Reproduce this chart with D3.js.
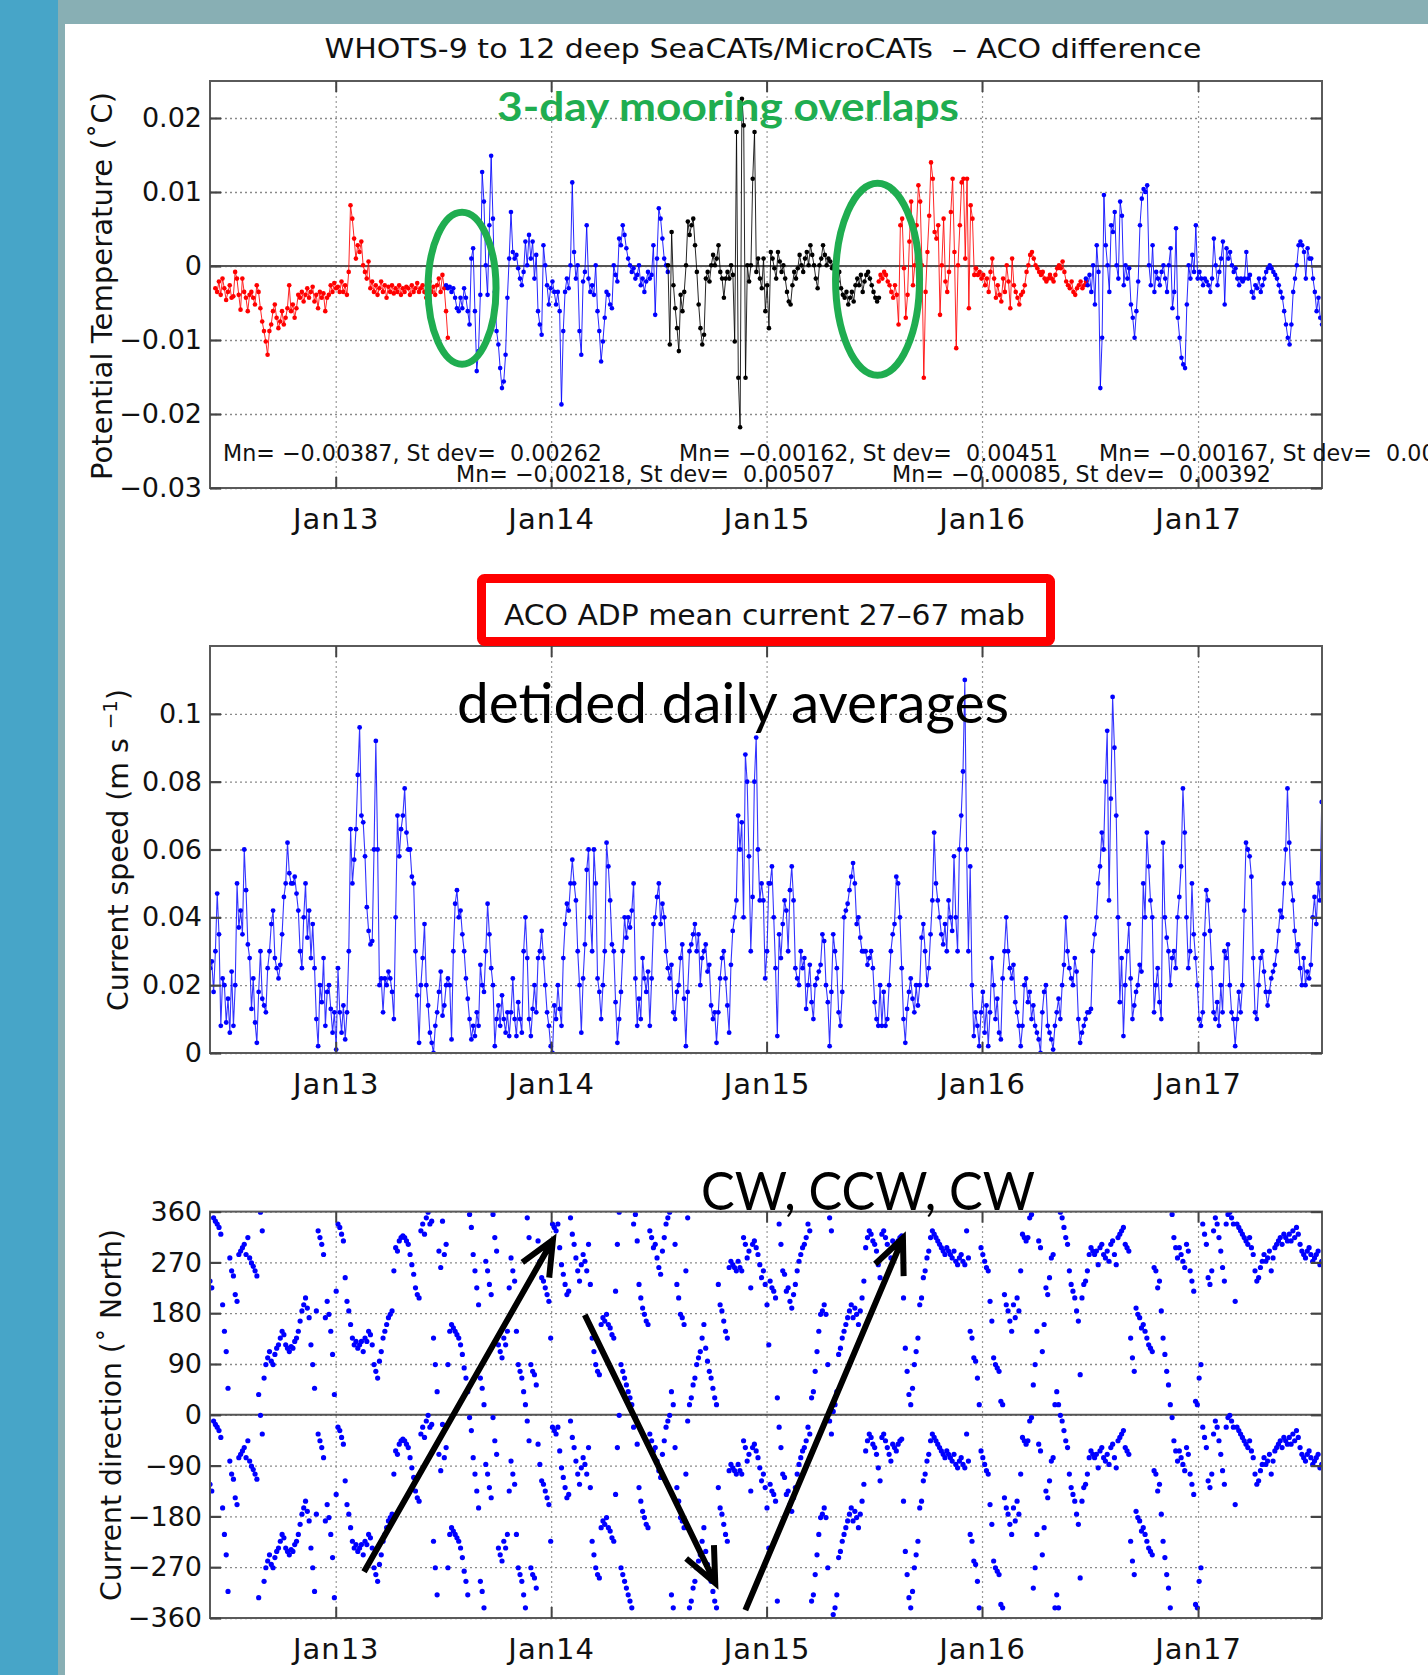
<!DOCTYPE html>
<html><head><meta charset="utf-8">
<script src="https://cdn.jsdelivr.net/npm/d3@7"></script>
<style>body{margin:0;background:#fff;} svg{display:block;} text{white-space:pre;}</style>
</head><body><svg id="c" width="1428" height="1675"></svg>
<script>
// ---------------- DATA ----------------
const STEP_DAYS = 3.054;           // sampling interval of the (sub-sampled) daily series
const xTickDates = ["2013-01-01","2014-01-01","2015-01-01","2016-01-01","2017-01-01"];
const xTickLabels = ["Jan13","Jan14","Jan15","Jan16","Jan17"];

const tempTicks = [0.02,0.01,0,-0.01,-0.02,-0.03];
const tempTickLabels = ["0.02","0.01","0","\u22120.01","\u22120.02","\u22120.03"];
const speedTicks = [0,0.02,0.04,0.06,0.08,0.1];
const speedTickLabels = ["0","0.02","0.04","0.06","0.08","0.1"];
const dirTicks = [360,270,180,90,0,-90,-180,-270,-360];
const dirTickLabels = ["360","270","180","90","0","\u221290","\u2212180","\u2212270","\u2212360"];

// temperature differences in units of 0.001 degC, per mooring segment
const tempSegStarts = ["2012-06-11","2013-07-07","2014-07-18","2015-07-10","2016-06-25"];
const tempSegColors = ["#ff0000","#0000ff","#000000","#ff0000","#0000ff"];
const tempW9 = [-3.0,-3.5,-2.1,-3.9,-1.7,-3.0,-4.6,-3.5,-2.6,-4.3,-4.1,-0.8,-1.7,-3.9,-5.9,-1.7,-3.5,-4.3,-6.1,-3.9,
-3.5,-4.3,-5.2,-2.6,-3.5,-5.7,-7.5,-8.8,-10.2,-12.0,-8.8,-7.9,-6.1,-5.2,-7.0,-8.4,-7.5,-6.1,-7.9,-7.0,
-5.7,-2.6,-6.1,-5.2,-7.0,-5.7,-3.9,-4.3,-3.5,-4.8,-3.9,-3.0,-4.3,-3.5,-2.8,-4.8,-3.9,-5.7,-3.5,-4.3,
-3.7,-6.1,-4.3,-3.9,-2.6,-3.5,-2.3,-3.0,-2.8,-3.5,-2.1,-3.5,-2.6,-3.9,-0.8,8.2,6.4,3.7,1.0,2.8,
1.9,3.3,0.1,-0.8,-1.7,0.6,-3.0,-2.1,-3.5,-2.6,-3.9,-3.0,-2.1,-3.5,-2.6,-4.3,-2.8,-3.5,-2.6,-3.7,
-3.0,-3.5,-2.6,-3.9,-3.0,-3.5,-2.8,-3.0,-3.9,-2.6,-3.5,-3.0,-2.3,-3.5,-3.0,-2.6,-3.5,-4.3,-3.0,-2.1,
-3.5,-2.8,-3.9,-2.6,-1.7,-3.5,-1.2,-3.0,-6.1,-9.7];
const tempW10 = [-2.6,-3.0,-2.8,-3.5,-3.0,-4.3,-5.7,-6.1,-4.3,-5.7,-3.0,-4.3,-6.1,-7.9,1.0,2.4,-6.1,-14.2,-11.5,-3.9,
12.7,8.7,0.1,-3.9,5.5,14.9,6.4,-3.5,-8.8,-10.6,-13.8,-16.5,-15.6,-12.0,-4.3,1.0,7.3,1.9,1.0,1.5,
-0.3,-1.7,-2.6,-0.8,3.3,0.1,4.2,1.0,3.3,-1.7,1.5,-6.1,-7.9,-9.3,2.8,0.1,-2.6,-5.2,-3.0,-2.1,
-3.5,-5.2,-3.5,-6.1,-18.7,-8.8,-3.5,-1.7,-3.0,0.1,11.3,1.9,-1.7,0.1,-8.8,-12.0,-2.1,-0.8,5.5,-1.7,
-3.5,-2.6,-3.9,0.1,-6.1,-8.8,-12.9,-10.2,-7.0,-3.5,-3.9,-5.2,-5.7,0.1,-1.2,-2.1,3.7,2.8,5.5,4.2,
2.4,1.0,0.1,-0.8,-0.3,-1.7,-1.2,0.1,-2.6,-1.7,-3.5,-2.1,-0.8,-1.7,-1.2,2.8,-6.6,1.0,7.8,6.4,
3.7,1.0,0.1,-0.8];
const tempW11 = [0.1,-10.6,4.6,-2.6,-5.7,-8.4,-11.5,-3.9,-6.1,-3.5,0.1,6.0,4.2,5.5,6.4,2.8,-0.8,-5.2,-8.4,-10.6,
-9.3,-1.7,-0.8,-2.1,0.1,1.5,0.1,1.0,2.8,-0.8,-1.7,-4.3,-1.7,-0.8,-1.7,0.1,-1.2,-10.2,18.1,-15.1,
-21.8,22.6,19.0,-15.1,0.1,-2.1,0.1,11.8,18.1,-0.8,1.0,-1.7,-3.0,1.0,-6.1,-2.6,-8.4,
1.9,1.0,-0.3,-1.7,1.9,0.6,-0.8,0.1,-1.7,-3.5,-4.8,-5.2,-2.6,-0.8,-1.7,-0.3,1.5,0.1,-0.8,1.0,
1.9,0.1,2.8,1.5,0.1,-1.7,-3.0,0.1,1.0,2.8,1.5,0.1,1.0,0.6,-0.3,0.1,-1.2,-2.1,-0.8,-3.0,
-3.9,-4.3,-3.5,-5.2,-4.3,-3.5,-4.8,-2.6,-1.7,-2.6,-1.2,-3.5,-2.1,-1.2,-0.8,-1.7,-2.6,-3.5,-4.3,-4.8,-4.3];
const tempW12 = [-2.1,-1.2,-1.7,-0.8,-1.2,-2.1,-2.6,-3.5,-4.3,-2.6,-3.9,-7.9,5.5,6.4,-0.3,-7.0,-3.9,3.3,8.7,-2.6,
0.1,5.5,10.9,8.7,0.1,-15.1,-3.5,1.9,6.8,14.0,11.8,4.6,3.7,5.5,-6.6,0.1,6.4,-2.1,-3.5,-0.8,
7.3,11.8,1.9,-11.1,0.1,5.5,11.3,11.8,1.0,11.8,-5.7,8.2,6.4,-1.2,-0.3,-1.2,-0.8,-1.7,-1.2,-2.6,
-1.7,-3.5,-0.8,1.0,-1.7,-4.3,-2.6,-3.9,-4.8,-1.7,-3.5,0.1,-2.1,-5.7,1.0,-2.6,-3.5,-4.3,-5.2,-3.9,
-3.5,-2.6,-0.8,0.1,1.5,1.9,1.0,0.1,-0.3,-0.8,-1.2,-0.8,-1.7,-2.1,-1.7,-1.2,-1.7,-2.1,-1.2,-0.3,
0.1,-0.3,0.6,-0.8,-2.1,-2.6,-3.0,-2.1,-3.5,-3.9,-3.0,-2.6,-2.1,-3.0,-2.6,-2.1];
const tempW13 = [-1.7,-2.6,-1.2,-3.5,0.1,-5.2,2.8,-0.8,-16.5,-9.7,9.6,2.8,0.1,-3.5,5.5,4.6,7.3,0.1,-1.7,8.7,
6.8,-2.6,0.1,-1.7,-0.3,-5.2,-7.0,-9.7,-6.1,-2.1,5.5,9.1,10.4,10.0,10.9,0.1,-2.6,2.8,-3.5,-0.8,
-1.7,-2.6,-0.8,0.1,-1.7,-3.5,0.1,2.4,-5.7,-3.5,5.1,-7.0,-9.7,-12.4,-13.3,-13.8,-5.2,0.1,-1.7,1.5,
-0.8,5.5,-1.7,-0.8,-1.7,-2.6,-1.7,-2.1,-2.6,-3.5,-1.7,3.7,0.1,-2.6,-0.8,1.0,3.3,-5.2,2.4,1.0,
1.9,0.1,-0.8,-0.3,-1.7,-2.6,-1.7,-2.1,-1.7,1.9,-1.7,-1.2,-3.5,-4.3,-2.6,-3.0,-1.7,-3.5,-2.6,-1.7,
-0.8,-0.3,0.1,-0.3,-0.8,-1.2,-1.7,-2.6,-3.5,-4.3,-6.1,-7.9,-9.7,-10.6,-7.9,-3.5,-1.7,0.1,2.8,3.3,
2.8,1.9,-1.7,2.4,1.0,1.0,-1.7,-3.5,-6.1,-4.3,-7.0,-7.9];
const tempSegments = [tempW9,tempW10,tempW11,tempW12,tempW13];
const tempStats = ["Mn= \u22120.00387, St dev=  0.00262","Mn= \u22120.00218, St dev=  0.00507",
  "Mn= \u22120.00162, St dev=  0.00451","Mn= \u22120.00085, St dev=  0.00392","Mn= \u22120.00167, St dev=  0.00"];

// current speed (m/s), detided daily averages (sub-sampled)
const speedStarts = ["2012-06-02","2015-01-07"];
const speedA = [.025,.027,.018,.03,.047,.035,.008,.022,.02,.009,.016,.006,.024,.008,.02,.05,.037,.042,.035,.06,
.048,.032,.028,.013,.022,.009,.003,.018,.03,.016,.014,.012,.025,.03,.038,.042,.028,.025,.022,.026,
.035,.046,.05,.062,.053,.05,.05,.052,.047,.042,.03,.025,.04,.05,.034,.042,.028,.038,.025,.01,
.002,.02,.015,.028,.008,.018,.02,.013,.006,.012,.001,.025,.012,.006,.014,.004,.012,.03,.066,.05,
.057,.066,.082,.096,.07,.068,.058,.043,.036,.032,.033,.06,.092,.06,.02,.022,.012,.022,.02,.024,
.022,.018,.01,.04,.07,.058,.066,.07,.078,.065,.06,.06,.052,.05,.03,.017,.003,.02,.028,.038,
.02,.014,.006,.003,0,.008,.012,.018,.024,.011,.014,.02,.022,.02,.004,.03,.044,.048,.04,.042,
.035,.03,.022,.016,.01,.004,.008,.005,.012,.008,.026,.02,.018,.03,.044,.035,.025,.02,.002,.01,
.014,.008,.017,.01,.006,.012,.005,.012,.022,.01,.005,.015,.01,.006,.03,.04,.028,.01,.005,.013,
.02,.012,.028,.03,.036,.028,.02,.012,.008,.002,0,.014,.01,.02,.013,.008,.028,.038,.044,.042,
.05,.057,.05,.045,.03,.02,.006,.022,.032,.054,.06,.04,.03,.06,.05,.022,.018,.01,.02,.03,
.062,.055,.045,.032,.03,.015,.003,.01,.018,.03,.04,.034,.04,.037,.042,.05,.022,.008,.016,.01,
.028,.022,.018,.024,.008,.022,.038,.04,.046,.05,.038,.044,.04,.03,.025,.022,.026,.012,.01,.018,
.02,.028,.032,.016,.002,.018,.03,.032,.035,.038,.03,.035,.02,.028,.03,.032,.024,.026,.014,.01,
.012,.003,.012,.022,.028,.03,.022,.014,.006,.026,.036,.04,.045,.07,.06,.068,.04,.088,.08,.058,
.03,.046,.08,.093,.06,.045,.05,.045,.022,.03,.05];
const speedB = [.05,.055,.04,.025,.005,.035,.028,.038,.045,.042,.03,.048,.055,.045,.025,.022,.02,.03,.025,.028,
.013,.02,.026,.015,.01,.02,.022,.024,.026,.035,.033,.02,.015,.002,.018,.035,.03,.025,.012,.008,
.018,.04,.042,.044,.048,.052,.056,.05,.038,.04,.034,.03,.03,.03,.026,.028,.03,.025,.015,.01,
.008,.02,.008,.018,.008,.01,.02,.03,.035,.038,.052,.05,.04,.025,.01,.003,.013,.018,.022,.016,
.012,.02,.014,.02,.034,.038,.03,.02,.025,.035,.045,.065,.05,.045,.04,.035,.032,.038,.03,.045,
.04,.036,.058,.04,.03,.06,.07,.083,.11,.06,.03,.055,.02,.005,.012,.008,.002,.012,.018,.006,
.014,.002,.012,.028,.02,.01,.016,.006,.004,.022,.03,.04,.03,.025,.022,.026,.015,.012,.008,.002,
.008,.02,.022,.015,.018,.01,.014,.008,.006,.004,0,.012,.018,.02,.008,.006,.004,.001,.008,.012,
.016,.01,.02,.026,.04,.03,.025,.022,.02,.028,.024,.01,.003,.006,.008,.01,.012,.012,.013,.03,
.035,.04,.05,.055,.065,.06,.08,.095,.045,.075,.105,.09,.07,.04,.015,.028,.005,.02,.03,.038,
.022,.01,.014,.018,.02,.026,.024,.05,.04,.065,.055,.045,.04,.012,.02,.025,.015,.01,.062,.04,
.034,.03,.02,.028,.03,.025,.04,.046,.055,.078,.065,.04,.025,.03,.05,.035,.028,.02,.01,.008,
.012,.035,.048,.045,.036,.025,.012,.01,.015,.008,.02,.012,.03,.028,.032,.02,.012,.01,.002,.01,
.018,.012,.02,.042,.062,.06,.058,.052,.028,.012,.01,.02,.028,.03,.024,.018,.014,.018,.022,.024,
.026,.03,.036,.042,.04,.05,.06,.078,.062,.05,.045,.036,.03,.032,.025,.02,.028,.02,.024,.022,
.026,.04,.046,.038,.05,.045,.074];

// current direction (degrees from North, 0-360), same sampling
const dirStarts = ["2012-06-02","2015-01-07"];
const dirA = [237,225,349,343,338,332,320,195,148,112,47,278,255,246,213,201,284,290,296,302,
284,314,278,269,263,255,246,36,359,326,65,89,101,112,95,89,107,118,124,136,
148,142,124,118,112,121,118,130,136,148,166,184,195,207,189,172,124,89,47,184,
326,314,302,284,172,201,178,148,107,36,219,338,332,320,308,243,201,184,160,136,
124,130,118,124,130,112,136,130,148,142,124,89,77,65,95,112,136,148,160,172,
178,184,255,296,290,308,314,317,314,308,302,284,266,249,225,213,207,326,338,320,
349,359,338,343,136,89,41,290,261,343,284,302,89,148,160,154,148,142,136,124,
107,83,65,41,355,332,284,255,225,195,65,47,18,272,255,231,213,355,314,290,
124,112,101,136,124,148,225,278,255,237,148,89,77,65,41,18,349,314,89,77,
71,53,308,272,243,237,225,213,201,136,338,332,326,338,296,266,249,231,213,219,
349,320,302,278,255,237,266,284,272,255,302,231,136,112,89,77,71,160,172,166,
178,160,154,142,136,219,302,359,89,77,65,53,41,30,18,338,355,308,231,207,
189,178,166,160,326,314,296,302,278,261,249,290,314,338,349,359,41,18,302,231,
207,178,172,160,255,349,18,30,53,65,89,101,112,136,160,118,95,77,65,47,
30,18,231,195,184,166,148,136,261,272,266,261,255,272,261,255,314,302,278,290,
225,302,308,296,284,266,243,255,231,195,124];
const dirB = [237,225,219,207,30,338,302,255,249,219,225,201,189,213,231,255,272,284,296,302,
314,338,326,30,41,77,112,148,178,184,195,178,89,349,326,6,18,41,107,118,
136,148,160,172,184,195,172,189,178,160,184,207,237,296,314,326,320,308,302,290,
266,243,320,326,314,302,290,278,308,302,296,308,314,317,207,118,77,36,18,47,
89,112,136,195,207,243,255,278,290,314,326,320,314,308,302,296,290,284,296,290,
284,278,290,272,266,278,284,272,266,326,278,148,136,101,95,65,18,296,284,272,
261,255,201,166,101,89,83,77,24,18,213,195,184,166,148,195,172,207,184,255,
320,314,308,314,349,355,53,89,148,308,296,112,160,225,213,243,278,284,18,41,
18,359,349,332,314,302,255,231,219,207,184,166,71,207,231,237,255,284,296,290,
284,290,266,296,302,284,278,290,272,302,308,284,266,314,320,326,332,302,296,290,
136,101,77,189,178,172,154,160,148,136,124,118,112,261,255,225,237,184,136,107,
77,53,18,355,314,296,278,296,284,272,261,302,290,255,237,219,24,18,65,89,
338,320,302,243,231,255,326,349,338,314,290,261,237,338,355,359,349,338,201,338,
332,326,320,314,308,302,314,296,284,255,237,243,261,272,284,272,278,290,255,278,
296,302,308,314,302,320,314,308,320,308,326,314,332,320,302,290,284,278,290,296,
284,272,278,284,290,266,272];

// annotations in data coordinates
const overlapEllipses = [{date:"2013-08-03", temp:-0.0030, rx:34, ry:76},{date:"2015-07-08", temp:-0.0018, rx:42, ry:96}];
const rotationArrows = [
  {from:["2013-02-18",-278], to:["2014-01-04",310]},
  {from:["2014-02-27",177],  to:["2014-10-06",-298]},
  {from:["2014-11-26",-346], to:["2015-08-20",313]}];

// ---------------- DRAWING ----------------
const W = 1428, H = 1675, DAY = 864e5;
const FM = "'DejaVu Sans', 'Liberation Sans', sans-serif";
const FC = "Lato, 'Open Sans', sans-serif";
const parse = s => new Date(s + "T00:00:00Z");
const svg = d3.select("#c");
svg.append("rect").attr("width", W).attr("height", H).attr("fill", "#88AFB4");
svg.append("rect").attr("width", 58).attr("height", H).attr("fill", "#47A5C8");
svg.append("rect").attr("x", 65).attr("y", 24).attr("width", W - 65).attr("height", H - 24).attr("fill", "#fff");

const L = 210, R = 1322;
const x = d3.scaleUtc().domain([parse("2012-06-02"), parse("2017-07-30")]).range([L, R]);
const xTicks = xTickDates.map(parse);

function series(start, vals, k) {
  const t0 = parse(start).getTime();
  return vals.map((v, i) => ({t: new Date(t0 + i * STEP_DAYS * DAY), v: v * k}));
}

function frame(top, bottom, y, ticks, zero, id) {
  const g = svg.append("g");
  g.append("g").attr("transform", `translate(0,${bottom})`)
    .call(d3.axisBottom(x).tickValues(xTicks).tickSize(-(bottom - top)).tickFormat(""))
    .call(s => s.select(".domain").remove())
    .selectAll("line").attr("stroke", "#9a9a9a").attr("stroke-width", 1.2).attr("stroke-dasharray", "2,3");
  g.append("g").attr("transform", `translate(${L},0)`)
    .call(d3.axisLeft(y).tickValues(ticks).tickSize(-(R - L)).tickFormat(""))
    .call(s => s.select(".domain").remove())
    .selectAll("line").attr("stroke", "#8a8a8a").attr("stroke-width", 1.3).attr("stroke-dasharray", "2,3");
  if (zero) g.append("line").attr("x1", L).attr("x2", R).attr("y1", y(0)).attr("y2", y(0))
    .attr("stroke", "#555").attr("stroke-width", 2);
  svg.append("clipPath").attr("id", id).append("rect")
    .attr("x", L).attr("y", top).attr("width", R - L).attr("height", bottom - top);
  return g;
}

function axesOn(top, bottom, y, ticks, labels) {
  const g = svg.append("g");
  g.append("rect").attr("x", L).attr("y", top).attr("width", R - L).attr("height", bottom - top)
    .attr("fill", "none").attr("stroke", "#5a5a5a").attr("stroke-width", 2);
  const left = g.append("g").attr("transform", `translate(${L},0)`)
    .call(d3.axisLeft(y).tickValues(ticks).tickFormat((d, i) => labels[i]).tickSizeInner(-11).tickSizeOuter(0).tickPadding(8));
  left.select(".domain").remove();
  left.selectAll("line").attr("stroke", "#444").attr("stroke-width", 2.2);
  left.selectAll("text").attr("font-family", FM).attr("font-size", 27).attr("fill", "#111");
  const right = g.append("g").attr("transform", `translate(${R},0)`)
    .call(d3.axisRight(y).tickValues(ticks).tickFormat("").tickSizeInner(-11).tickSizeOuter(0));
  right.select(".domain").remove();
  right.selectAll("line").attr("stroke", "#444").attr("stroke-width", 2.2);
  const topAx = g.append("g").attr("transform", `translate(0,${top})`)
    .call(d3.axisTop(x).tickValues(xTicks).tickFormat("").tickSizeInner(-11).tickSizeOuter(0));
  topAx.select(".domain").remove();
  topAx.selectAll("line").attr("stroke", "#444").attr("stroke-width", 2);
  const bot = g.append("g").attr("transform", `translate(0,${bottom})`)
    .call(d3.axisBottom(x).tickValues(xTicks).tickFormat((d, i) => xTickLabels[i]).tickSizeInner(-11).tickSizeOuter(0).tickPadding(20));
  bot.select(".domain").remove();
  bot.selectAll("line").attr("stroke", "#444").attr("stroke-width", 2);
  bot.selectAll("text").attr("font-family", FM).attr("font-size", 29).attr("letter-spacing", 1).attr("fill", "#111");
}

function yLabel(cx, cy, len, size, parts) {
  const t = svg.append("text").attr("transform", `translate(${cx},${cy}) rotate(-90)`)
    .attr("text-anchor", "middle").attr("font-family", FM).attr("font-size", size).attr("fill", "#111")
    .attr("textLength", len).attr("lengthAdjust", "spacingAndGlyphs");
  parts.forEach(p => {
    const s = t.append("tspan").text(p.t);
    if (p.sup) s.attr("font-size", size * 0.7).attr("baseline-shift", "super");
  });
}

// ---- Panel 1: temperature difference ----
{
  const top = 81, bottom = 488;
  const y = d3.scaleLinear().domain([-0.03, 0.025]).range([bottom, top]);
  frame(top, bottom, y, tempTicks, true, "clip1");
  const data = svg.append("g").attr("clip-path", "url(#clip1)");
  const line = d3.line().x(d => x(d.t)).y(d => y(d.v));
  tempSegments.forEach((vals, si) => {
    const s = series(tempSegStarts[si], vals, 0.001);
    const c = tempSegColors[si];
    data.append("path").datum(s).attr("d", line).attr("fill", "none").attr("stroke", c).attr("stroke-width", 1).attr("opacity", 0.85);
    data.selectAll(null).data(s).enter().append("circle")
      .attr("cx", d => x(d.t)).attr("cy", d => y(d.v)).attr("r", 2.3).attr("fill", c);
  });
  axesOn(top, bottom, y, tempTicks, tempTickLabels);
  overlapEllipses.forEach(e => svg.append("ellipse").attr("cx", x(parse(e.date))).attr("cy", y(e.temp))
    .attr("rx", e.rx).attr("ry", e.ry).attr("fill", "none").attr("stroke", "#1FAD50").attr("stroke-width", 7));
  svg.append("text").attr("x", 497).attr("y", 121).attr("font-family", FC).attr("font-weight", 700)
    .attr("font-size", 40).attr("fill", "#1FAD50").attr("textLength", 462).attr("lengthAdjust", "spacingAndGlyphs")
    .text("3-day mooring overlaps");
  // stats: scale all so that a full stat line is 379 px wide, as in the figure
  const statPos = [[223, 461], [456, 482], [679, 461], [892, 482], [1099, 461]];
  const statEls = tempStats.map((s, i) => svg.append("text").attr("x", statPos[i][0]).attr("y", statPos[i][1])
    .attr("font-family", FM).attr("font-size", 23).attr("fill", "#111").text(s));
  const f = 379 / statEls[0].node().getComputedTextLength();
  statEls.forEach(el => el.attr("textLength", el.node().getComputedTextLength() * f).attr("lengthAdjust", "spacingAndGlyphs"));
  svg.append("text").attr("x", 763).attr("y", 58).attr("text-anchor", "middle").attr("font-family", FM)
    .attr("font-size", 27).attr("fill", "#111").attr("textLength", 877).attr("lengthAdjust", "spacingAndGlyphs")
    .text("WHOTS\u20119 to 12 deep SeaCATs/MicroCATs  \u2013 ACO difference");
  yLabel(112, 286, 388, 29, [{t: "Potential Temperature (\u02DAC)"}]);
}

// ---- Panel 2: current speed ----
{
  const top = 646, bottom = 1053;
  const y = d3.scaleLinear().domain([0, 0.12]).range([bottom, top]);
  frame(top, bottom, y, speedTicks, false, "clip2");
  const data = svg.append("g").attr("clip-path", "url(#clip2)");
  const line = d3.line().x(d => x(d.t)).y(d => y(d.v));
  [speedA, speedB].forEach((vals, i) => {
    const s = series(speedStarts[i], vals, 1);
    data.append("path").datum(s).attr("d", line).attr("fill", "none").attr("stroke", "#0000ff").attr("stroke-width", 1.1).attr("opacity", 0.8);
    data.selectAll(null).data(s).enter().append("circle")
      .attr("cx", d => x(d.t)).attr("cy", d => y(d.v)).attr("r", 2.4).attr("fill", "#0000ff");
  });
  axesOn(top, bottom, y, speedTicks, speedTickLabels);
  svg.append("text").attr("x", 457).attr("y", 723).attr("font-family", FC).attr("font-size", 57)
    .attr("fill", "#000").attr("textLength", 552).attr("lengthAdjust", "spacingAndGlyphs").text("detided daily averages");
  svg.append("rect").attr("x", 481.5).attr("y", 578.5).attr("width", 569).attr("height", 63).attr("rx", 3)
    .attr("fill", "#fff").attr("stroke", "#ff0000").attr("stroke-width", 9);
  svg.append("text").attr("x", 504).attr("y", 625).attr("font-family", FM).attr("font-size", 28).attr("fill", "#111")
    .attr("textLength", 521).attr("lengthAdjust", "spacingAndGlyphs").text("ACO ADP mean current 27\u201367 mab");
  yLabel(128, 850, 322, 28, [{t: "Current speed (m s "}, {t: "\u22121", sup: true}, {t: ")"}]);
}

// ---- Panel 3: current direction ----
{
  const top = 1211.6, bottom = 1618;
  const y = d3.scaleLinear().domain([-360, 360]).range([bottom, top]);
  frame(top, bottom, y, dirTicks, true, "clip3");
  const data = svg.append("g").attr("clip-path", "url(#clip3)");
  [dirA, dirB].forEach((vals, i) => {
    const s = series(dirStarts[i], vals, 1);
    const both = s.concat(s.map(d => ({t: d.t, v: d.v - 360})));
    data.selectAll(null).data(both).enter().append("circle")
      .attr("cx", d => x(d.t)).attr("cy", d => y(d.v)).attr("r", 2.6).attr("fill", "#0000ff");
  });
  axesOn(top, bottom, y, dirTicks, dirTickLabels);
  rotationArrows.forEach(a => {
    const x0 = x(parse(a.from[0])), y0 = y(a.from[1]), x1 = x(parse(a.to[0])), y1 = y(a.to[1]);
    const ang = Math.atan2(y0 - y1, x0 - x1), HL = 38, HA = 24 * Math.PI / 180;
    const w1 = [x1 + HL * Math.cos(ang + HA), y1 + HL * Math.sin(ang + HA)];
    const w2 = [x1 + HL * Math.cos(ang - HA), y1 + HL * Math.sin(ang - HA)];
    svg.append("path").attr("d", `M${x0},${y0}L${x1},${y1}M${w1[0]},${w1[1]}L${x1},${y1}L${w2[0]},${w2[1]}`)
      .attr("fill", "none").attr("stroke", "#000").attr("stroke-width", 6).attr("stroke-linejoin", "miter");
  });
  svg.append("text").attr("x", 701).attr("y", 1210).attr("font-family", FC).attr("font-size", 52)
    .attr("fill", "#000").attr("textLength", 334).attr("lengthAdjust", "spacingAndGlyphs").text("CW, CCW, CW");
  yLabel(121, 1415, 372, 29, [{t: "Current direction (\u02DA North)"}]);
}
</script></body></html>
